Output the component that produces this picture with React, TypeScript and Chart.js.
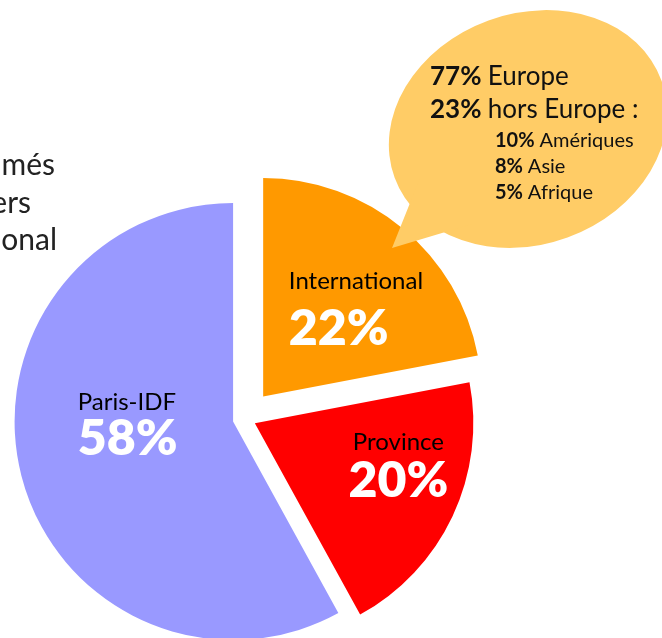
import React, { useEffect, useRef } from "react";
import { Chart, registerables } from "chart.js";

Chart.register(...registerables);

// ---- data ----
const categories = ["International", "Province", "Paris-IDF"];
const shares = [22, 20, 58];
const sliceColors = ["#FF9900", "#FF0000", "#9999FF"];

const bubbleShares = ["77%", "23%", "10%", "8%", "5%"];
const bubbleLabels = ["Europe", "hors Europe :", "Amériques", "Asie", "Afrique"];

const titleFragments = ["més", "ers", "onal"];

// ---- styling / layout (not data) ----
const explodeDistances = [28.5, 10.9, 12.3];
const labelLayout = [
  { delta: -26.2, frac: 0.507, align: "left", gap: 56 },
  { delta: -14.7, frac: 0.668, align: "center", gap: 47 },
  { delta: 18.7, frac: 0.713, align: "left", gap: 45 },
];
const FONT = "Lato, 'Open Sans', 'DejaVu Sans', sans-serif";

const explodePlugin = {
  id: "explodeSlices",
  afterDatasetsUpdate(chart: any, _args: any, opts: any) {
    const meta = chart.getDatasetMeta(0);
    meta.data.forEach((arc: any, i: number) => {
      const mid = (arc.startAngle + arc.endAngle) / 2;
      const d = (opts.distances && opts.distances[i]) || 0;
      arc.x += Math.cos(mid) * d;
      arc.y += Math.sin(mid) * d;
    });
  },
};

const sliceLabelPlugin = {
  id: "sliceLabels",
  afterDatasetsDraw(chart: any, _args: any, opts: any) {
    const ctx = chart.ctx;
    const meta = chart.getDatasetMeta(0);
    const data = chart.data.datasets[0].data as number[];
    const total = data.reduce((a, b) => a + b, 0);
    ctx.save();
    meta.data.forEach((arc: any, i: number) => {
      const lay = opts.layout[i];
      const mid = (arc.startAngle + arc.endAngle) / 2 + (lay.delta * Math.PI) / 180;
      const r = arc.outerRadius * lay.frac;
      const x = arc.x + Math.cos(mid) * r;
      const y = arc.y + Math.sin(mid) * r;
      ctx.textAlign = lay.align;
      ctx.textBaseline = "alphabetic";
      ctx.fillStyle = "#000";
      ctx.font = `400 24px ${FONT}`;
      ctx.fillText(chart.data.labels[i], x, y);
      ctx.fillStyle = "#fff";
      ctx.font = `800 50px ${FONT}`;
      ctx.fillText(Math.round((data[i] / total) * 100) + "%", x, y + lay.gap);
    });
    ctx.restore();
  },
};

const calloutPlugin = {
  id: "callout",
  afterDraw(chart: any) {
    const ctx = chart.ctx;
    ctx.save();
    // speech bubble
    ctx.fillStyle = "#FFCC66";
    ctx.beginPath();
    ctx.ellipse(528, 129, 142, 115.5, (-20 * Math.PI) / 180, 0, Math.PI * 2);
    ctx.fill();
    ctx.beginPath();
    ctx.moveTo(392, 248);
    ctx.lineTo(420, 178);
    ctx.lineTo(472, 224);
    ctx.closePath();
    ctx.fill();

    ctx.fillStyle = "#111";
    ctx.textBaseline = "alphabetic";
    ctx.textAlign = "left";
    const mainBase = [85, 118];
    for (let i = 0; i < 2; i++) {
      ctx.font = `700 26px ${FONT}`;
      ctx.fillText(bubbleShares[i], 430, mainBase[i]);
      const w = ctx.measureText(bubbleShares[i] + " ").width;
      ctx.font = `400 26px ${FONT}`;
      ctx.fillText(bubbleLabels[i], 430 + w, mainBase[i]);
    }
    const subBase = [147, 173, 199];
    for (let j = 0; j < 3; j++) {
      const i = j + 2;
      ctx.font = `700 20px ${FONT}`;
      ctx.fillText(bubbleShares[i], 495, subBase[j]);
      const w = ctx.measureText(bubbleShares[i] + " ").width;
      ctx.font = `400 20px ${FONT}`;
      ctx.fillText(bubbleLabels[i], 495 + w, subBase[j]);
    }

    // clipped title fragments at left edge
    ctx.fillStyle = "#222";
    ctx.font = `400 30px ${FONT}`;
    ctx.textAlign = "right";
    const fragRight = [55, 31, 57];
    const fragBase = [175, 213, 250];
    titleFragments.forEach((t, i) => ctx.fillText(t, fragRight[i], fragBase[i]));
    ctx.restore();
  },
};

export default function App() {
  const canvasRef = useRef<HTMLCanvasElement | null>(null);

  useEffect(() => {
    if (!canvasRef.current) return;
    const chart = new Chart(canvasRef.current, {
      type: "pie",
      data: {
        labels: categories,
        datasets: [
          {
            data: shares,
            backgroundColor: sliceColors,
            borderWidth: 0,
          },
        ],
      },
      options: {
        responsive: false,
        maintainAspectRatio: false,
        animation: false,
        radius: 218.5,
        layout: { padding: { left: 0, right: 172, top: 199, bottom: 0 } },
        plugins: {
          legend: { display: false },
          tooltip: { enabled: false },
          title: { display: false },
          explodeSlices: { distances: explodeDistances },
          sliceLabels: { layout: labelLayout },
        } as any,
        events: [],
      } as any,
      plugins: [explodePlugin, sliceLabelPlugin, calloutPlugin],
    });
    return () => chart.destroy();
  }, []);

  return (
    <div
      style={{
        position: "absolute",
        left: 0,
        top: 0,
        width: 662,
        height: 638,
        overflow: "hidden",
        background: "#fff",
      }}
    >
      <canvas ref={canvasRef} width={662} height={638} style={{ width: 662, height: 638, display: "block" }} />
    </div>
  );
}
